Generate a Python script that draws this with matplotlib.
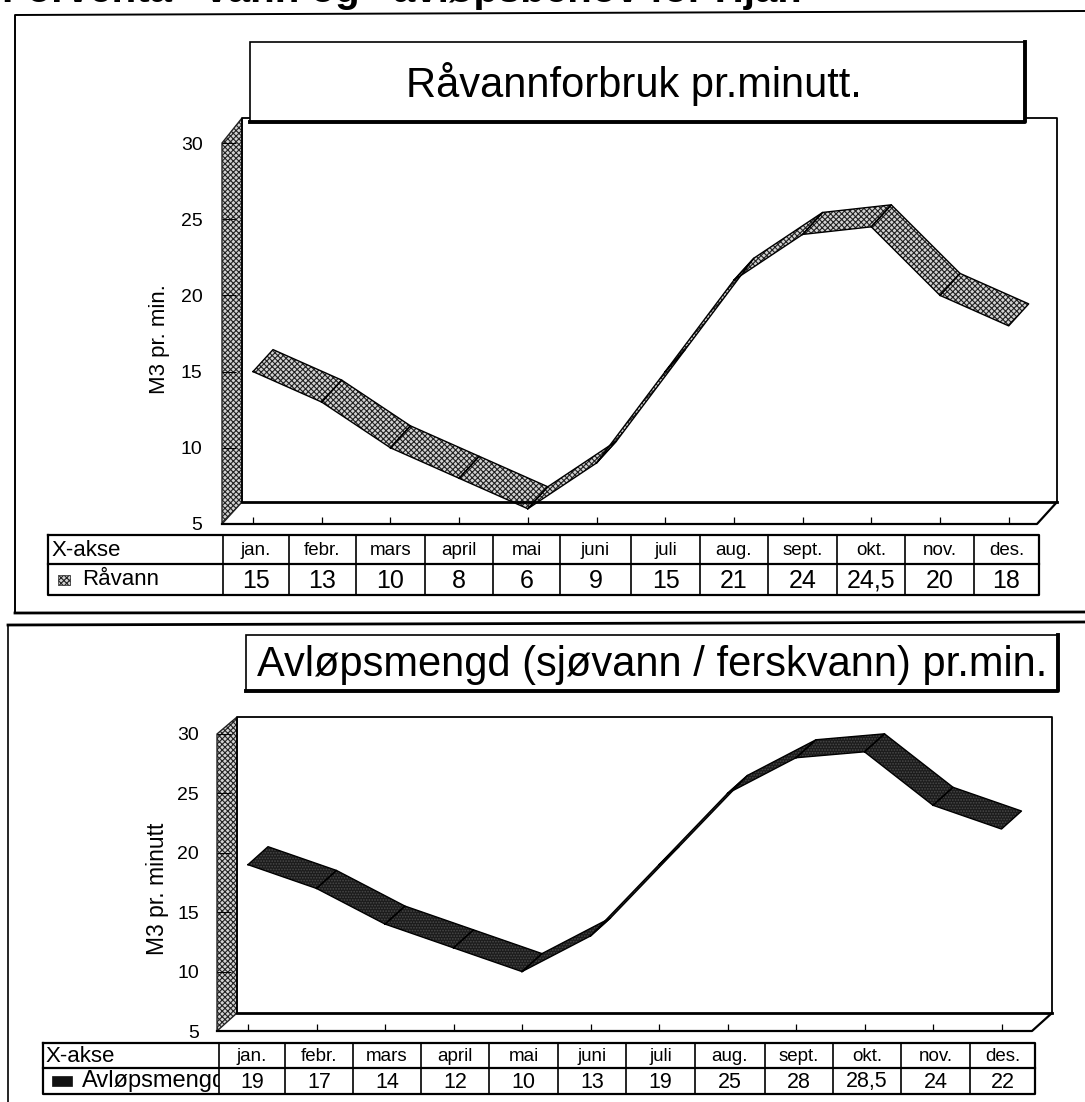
import matplotlib
matplotlib.use("Agg")
import matplotlib.pyplot as plt
from matplotlib.patches import Rectangle

W, H = 1085, 1102

months = ["jan.", "febr.", "mars", "april", "mai", "juni", "juli", "aug.", "sept.", "okt.", "nov.", "des."]
ravann = [15, 13, 10, 8, 6, 9, 15, 21, 24, 24.5, 20, 18]
avlop = [19, 17, 14, 12, 10, 13, 19, 25, 28, 28.5, 24, 22]
ravann_labels = ["15", "13", "10", "8", "6", "9", "15", "21", "24", "24,5", "20", "18"]
avlop_labels = ["19", "17", "14", "12", "10", "13", "19", "25", "28", "28,5", "24", "22"]
yticks = [5, 10, 15, 20, 25, 30]

plt.rcParams["font.family"] = ["Liberation Sans", "DejaVu Sans"]
plt.rcParams["hatch.linewidth"] = 0.8

fig = plt.figure(figsize=(W / 100, H / 100), dpi=100)

# overlay in pixel coords for frames, title boxes, tables
bg = fig.add_axes([0, 0, 1, 1], zorder=0)
bg.set_xlim(0, W)
bg.set_ylim(H, 0)
bg.axis("off")
top = fig.add_axes([0, 0, 1, 1], zorder=5)
top.set_xlim(0, W)
top.set_ylim(H, 0)
top.axis("off")
top.patch.set_alpha(0)


def chart(values, ylabel, geo, face, hatch, hatch_col):
    left, right, y30, y5 = geo["left"], geo["right"], geo["y30"], geo["y5"]
    ax = fig.add_axes([left / W, 1 - y5 / H, (right - left) / W, (y5 - y30) / H], zorder=2)
    ax.patch.set_alpha(0)
    mw = geo["mw"]
    uh = (y5 - y30) / 25
    ax.set_xlim((left - geo["x0"]) / mw, (right - geo["x0"]) / mw)
    ax.set_ylim(5, 30)
    dx = geo["dx"] / mw
    dy = geo["dy"] / uh
    x_l, x_r = ax.get_xlim()
    y_top = 30 + geo["over"] / uh

    for s in ax.spines.values():
        s.set_visible(False)

    # back wall, side wall, floor
    ax.plot([x_l + dx, x_l + dx, x_r + dx, x_r + dx], [5 + dy, y_top, y_top, 5 + dy],
            color="black", lw=1.3, clip_on=False)
    ax.plot([x_l + dx, x_r + dx], [5 + dy, 5 + dy], color="black", lw=2, clip_on=False)
    ax.fill([x_l, x_l + dx, x_l + dx, x_l], [5, 5 + dy, y_top, 30],
            facecolor="#d2d2d2", hatch="xxxxxx", edgecolor="#222222", lw=1, clip_on=False)
    ax.plot([x_l, x_r, x_r + dx], [5, 5, 5 + dy], color="black", lw=1.6, clip_on=False)

    # ribbon, one panel per month step
    for i in range(len(values) - 1):
        xs = [i, i + 1, i + 1 + dx, i + dx]
        ys = [values[i], values[i + 1], values[i + 1] + dy, values[i] + dy]
        ax.fill(xs, ys, facecolor=face, hatch=hatch, edgecolor=hatch_col, lw=0, clip_on=False)
        ax.plot(xs + xs[:1], ys + ys[:1], color="black", lw=1, clip_on=False)

    ax.set_yticks(yticks)
    ax.tick_params(axis="y", direction="in", length=10, width=0.7, labelsize=14, pad=geo["pad"])
    ax.set_xticks(range(len(values)))
    ax.set_xticklabels([])
    ax.tick_params(axis="x", direction="in", length=5, width=0.9)
    ax.set_ylabel(ylabel, fontsize=geo["label_size"], labelpad=geo["labelpad"], y=geo["label_y"])
    return ax


def title_box(text, x0, x1, y0, y1, size, tx):
    top.add_patch(Rectangle((x0, y0), x1 - x0, y1 - y0, facecolor="white", edgecolor="black", lw=1.2))
    top.plot([x0, x1, x1], [y1, y1, y0], color="black", lw=2.8)
    top.text(tx, (y0 + y1) / 2 + 2, text, ha="center", va="center", fontsize=size)


def table(edges, y0, ym, y1, name, labels, size, face, hatch, hatch_col, row_size, swatch):
    top.plot([edges[0], edges[-1], edges[-1], edges[0], edges[0]], [y0, y0, y1, y1, y0], color="black", lw=1.6)
    top.plot([edges[0], edges[-1]], [ym, ym], color="black", lw=1.6)
    for x in edges[1:-1]:
        top.plot([x, x], [y0, y1], color="black", lw=1.2)
    top.text(edges[0] + 3, (y0 + ym) / 2 + 1, "X-akse", fontsize=16, va="center")
    for i, m in enumerate(months):
        top.text((edges[i + 1] + edges[i + 2]) / 2, (y0 + ym) / 2 + 1, m, fontsize=13.5, ha="center", va="center")
        top.text((edges[i + 1] + edges[i + 2]) / 2, (ym + y1) / 2 + 1, labels[i], fontsize=row_size, ha="center", va="center")
    sx0, sx1 = swatch
    top.add_patch(Rectangle((sx0, (ym + y1) / 2 - 5), sx1 - sx0, 10, facecolor=face, hatch=hatch,
                            edgecolor=hatch_col, lw=0.5))
    t = top.text(82, (ym + y1) / 2, name, fontsize=size, va="center")
    t.set_clip_on(True)
    t.set_clip_path(Rectangle((edges[0], y0), edges[1] - edges[0], y1 - y0, transform=top.transData))


# outer frames
bg.plot([15, 15, 1085], [613, 15, 11], color="black", lw=1.4)
bg.plot([15, 1085], [613, 612], color="black", lw=2)
bg.plot([8, 8], [1102, 625], color="black", lw=1.2)
bg.plot([8, 1085], [625, 622], color="black", lw=2)

# page heading, cut by the top of the scan
top.text(2, 2, "Forventa   vann og   avløpsbehov for Hjar.", fontsize=29, fontweight="bold",
         va="baseline", clip_on=False)

chart(ravann, "M3 pr. min.",
      dict(left=222, right=1037, y30=143, y5=524, x0=253, mw=68.7, dx=20, dy=22, over=25,
           pad=14, labelpad=8, label_size=16, label_y=0.485),
      "#d2d2d2", "xxxxxx", "#222222")
chart(avlop, "M3 pr. minutt",
      dict(left=217, right=1032, y30=734, y5=1031, x0=248, mw=68.5, dx=20, dy=18, over=17,
           pad=13, labelpad=6, label_size=16.5, label_y=0.48),
      "#1c1c1c", "......", "#4a4a4a")

title_box("Råvannforbruk pr.minutt.", 250, 1025, 42, 122, 30, 634)
title_box("Avløpsmengd (sjøvann / ferskvann) pr.min.", 246, 1058, 635, 691, 30, 652)

table([48, 223, 289, 356, 425, 493, 560, 631, 700, 768, 837, 905, 974, 1039], 535, 564, 595,
      "Råvann", ravann_labels, 16, "#d2d2d2", "xxxxxx", "#222222", 18, (58, 70))
table([43, 219, 285, 353, 421, 489, 558, 626, 695, 765, 833, 901, 970, 1035], 1043, 1068, 1094,
      "Avløpsmengd", avlop_labels, 17, "#111111", None, "#111111", 15.5, (52, 72))

fig.savefig("out.png", dpi=100)
